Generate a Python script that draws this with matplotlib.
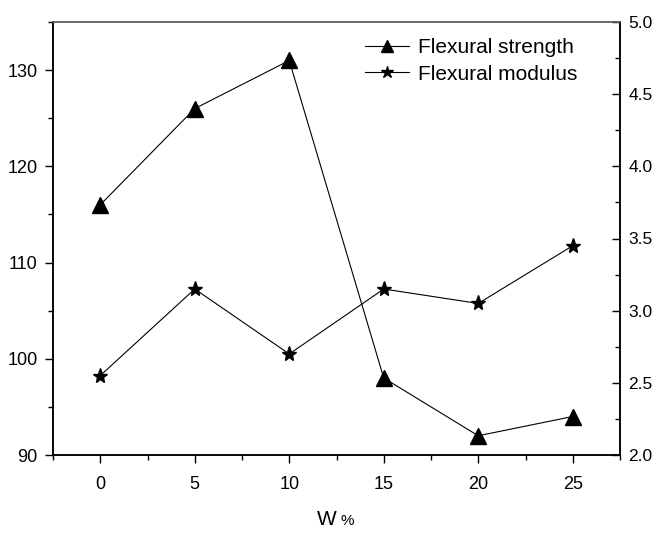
import matplotlib
matplotlib.use("Agg")
import matplotlib.pyplot as plt
from matplotlib.ticker import MultipleLocator

plt.rcParams['font.family'] = ['Liberation Sans', 'DejaVu Sans']

w_percent = [0, 5, 10, 15, 20, 25]
flexural_strength = [116, 126, 131, 98, 92, 94]
flexural_modulus = [2.55, 3.15, 2.70, 3.15, 3.05, 3.45]
left_ticks = [90, 100, 110, 120, 130]
right_ticks = [2.0, 2.5, 3.0, 3.5, 4.0, 4.5, 5.0]
x_ticks = [0, 5, 10, 15, 20, 25]

fig = plt.figure(figsize=(6.55, 5.49), dpi=100)
ax = fig.add_axes([53/655, 1-455/549, (620-53)/655, (455-22)/549])
ax2 = ax.twinx()

l1, = ax.plot(w_percent, flexural_strength, color='black', lw=0.8,
              marker='^', markersize=11, label='Flexural strength')
l2, = ax2.plot(w_percent, flexural_modulus, color='black', lw=0.8,
               marker='*', markersize=11, label='Flexural modulus')

ax.set_xlim(-2.5, 27.5)
ax.set_ylim(90, 135)
ax2.set_ylim(2.0, 5.0)
ax.set_xticks(x_ticks)
ax.set_yticks(left_ticks)
ax2.set_yticks(right_ticks)
ax2.set_yticklabels([f"{v:.1f}" for v in right_ticks])
ax.xaxis.set_minor_locator(MultipleLocator(2.5))
ax.yaxis.set_minor_locator(MultipleLocator(5))
ax2.yaxis.set_minor_locator(MultipleLocator(0.25))

for a in (ax, ax2):
    a.tick_params(which='major', direction='out', length=6, width=1, labelsize=13, pad=5)
    a.tick_params(which='minor', direction='out', length=3.5, width=1)
    for s in a.spines.values():
        s.set_linewidth(1.1)
    a.spines['top'].set_color('#666666')

# right axis ticks point inward in the reference
ax2.tick_params(axis='y', which='major', direction='in', length=6, labelsize=12.5, pad=6)
ax2.tick_params(axis='y', which='minor', direction='in', length=3.5)

ax.tick_params(axis='x', which='both', top=False)
ax.tick_params(axis='x', which='major', pad=9)
ax2.tick_params(axis='x', which='both', top=False)

# x label: "W" larger, "%" smaller
ax.text(0.5, -0.15, 'W', transform=ax.transAxes, ha='right', va='center', fontsize=15)
ax.text(0.507, -0.153, '%', transform=ax.transAxes, ha='left', va='center', fontsize=11)

ax.legend(handles=[l1, l2], loc='upper left', frameon=False, fontsize=15,
          handlelength=2.1, handletextpad=0.45, labelspacing=0.35,
          markerscale=0.85, borderpad=0, borderaxespad=0,
          bbox_to_anchor=(0.55, 0.962))

fig.savefig('out.png', dpi=100)
